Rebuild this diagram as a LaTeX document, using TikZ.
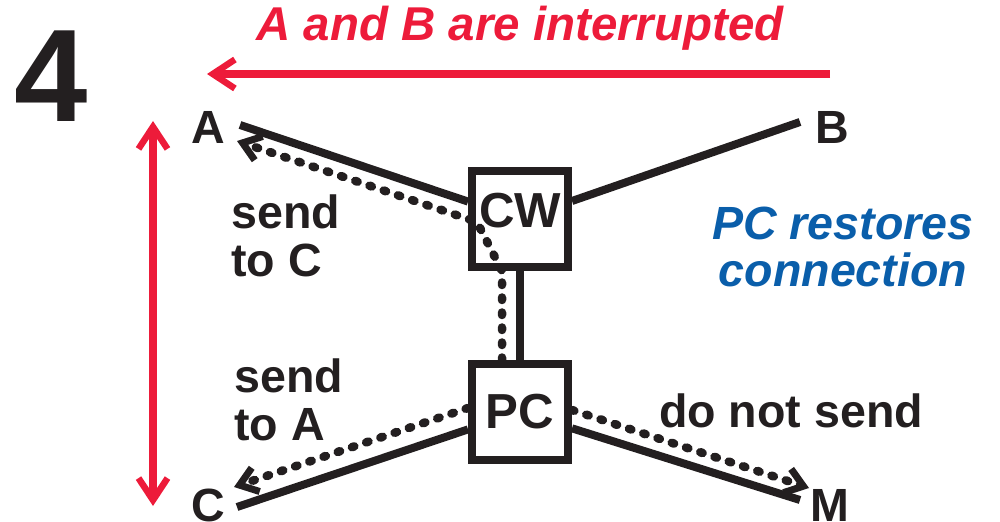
\documentclass[tikz,border=0pt]{standalone}
\usepackage{fontspec}
\setmainfont{Liberation Sans}
\usetikzlibrary{arrows.meta, positioning}

\definecolor{ink}{HTML}{231F20}
\definecolor{alarm}{HTML}{ED1B3A}
\definecolor{note}{HTML}{0A5EAA}

\begin{document}
\begin{tikzpicture}[
    x=0.2mm, y=-0.2mm,
    every node/.style={font=\fontsize{26.5}{27}\selectfont\bfseries, text=ink, inner sep=0pt},
    station/.style={draw=ink, line width=1.6mm, minimum width=19.2mm, minimum height=19.2mm,
        font=\fontsize{28}{28}\selectfont\bfseries},
    wire/.style={draw=ink, line width=1.6mm},
    relay/.style={draw=ink, line width=1.7mm, line cap=round, dash pattern=on 0.5mm off 2.5mm,
        -{Straight Barb[length=3.4mm, width=5mm, line width=1.4mm]}},
    flag/.style={draw=alarm, line width=1.6mm},
    barb/.tip={Straight Barb[length=4.4mm, width=5.8mm, line width=1.3mm]}
]
    \useasboundingbox (0,0) rectangle (1000,522);

    % heading and the broken A-B link
    \node[font=\fontsize{75}{75}\selectfont\bfseries] (step) at (51,76) {4};
    \node[text=alarm, font=\fontsize{27}{28}\selectfont\bfseries\itshape] (title) at (520,28) {A and B are interrupted};
    \coordinate (ab-right) at (830,74);
    \coordinate (ab-left) at (207,74);
    \draw[flag, -barb] (ab-right) -- (ab-left);

    % A-C link on the left
    \coordinate (ac-top) at (153,121);
    \coordinate (ac-bottom) at (153,506);
    \draw[flag, barb-barb] (ac-top) -- (ac-bottom);

    % stations
    \node[station, text depth=3.6mm] (cw) at (520,219) {CW};
    \node[station] (pc) at (520,412) {PC};

    % end points
    \node (a) at (208,127) {A};
    \node (b) at (832,127) {B};
    \node (c) at (208,505) {C};
    \node (m) at (830,505) {M};
    \coordinate (a-wire) at (240,125);
    \coordinate (b-wire) at (800,122);
    \coordinate (c-wire) at (237,507);
    \coordinate (m-wire) at (800,500);
    \coordinate (a-tip) at (237,141);
    \coordinate (c-tip) at (234,487);
    \coordinate (m-tip) at (809,488);
    \coordinate (cw-turn) at (477,222);

    % circuits
    \draw[wire] (a-wire) -- (cw);
    \draw[wire] (b-wire) -- (cw);
    \draw[wire] (cw.south) -- (pc.north);
    \draw[wire] (c-wire) -- (pc);
    \draw[wire] (m-wire) -- (pc);

    % signalling
    \draw[relay] ([xshift=-3.6mm]pc.north) -- ([xshift=-3.6mm]cw.south) -- (cw-turn) -- (a-tip);
    \draw[relay] ([yshift=0.8mm]pc.west) -- (c-tip);
    \draw[relay] ([yshift=0.4mm]pc.east) -- (m-tip);

    % labels
    \node[align=left, anchor=west] (to-c) at (231,236) {send\\to C};
    \node[align=left, anchor=west] (to-a) at (234,400) {send\\to A};
    \node (no-send) at (791,411) {do not send};
    \node[align=center, text=note, font=\fontsize{26.5}{27}\selectfont\bfseries\itshape] (restore) at (843,247) {PC restores\\connection};
\end{tikzpicture}
\end{document}
